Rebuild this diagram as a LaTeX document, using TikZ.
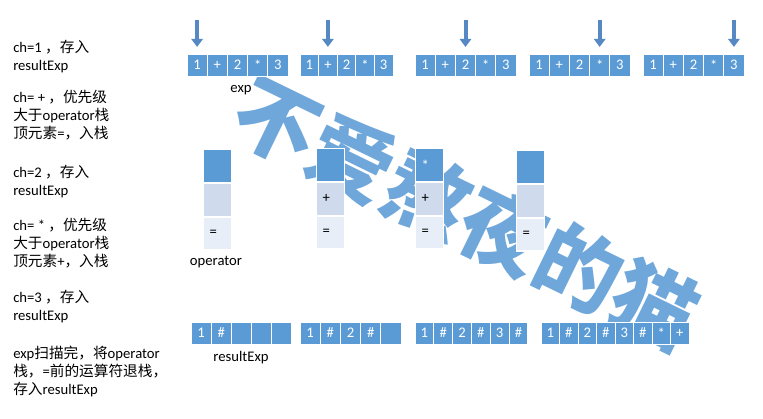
\documentclass[tikz,border=0pt]{standalone}
\usepackage{fontspec}
\setmainfont{Carlito}
\newfontfamily\cjk{Noto Sans CJK SC}
\usetikzlibrary{arrows.meta}
\definecolor{cellblue}{HTML}{5B9BD5}
\definecolor{stackmid}{HTML}{CFDBEC}
\definecolor{stacklow}{HTML}{E8EEF7}
\definecolor{ptrblue}{HTML}{5689C4}
\definecolor{wmblue}{HTML}{5B9BD5}

\begin{document}
\begin{tikzpicture}[x=0.75pt,y=-0.75pt,
    every node/.style={font=\fontsize{11pt}{13.4pt}\selectfont},
    cell/.style={rectangle,fill=cellblue,draw=white,line width=0.6pt,text=white,
        minimum height=16.5pt,minimum width=#1,inner sep=0pt},
    cell/.default=15pt,
    stackcell/.style={rectangle,draw=white,line width=0.9pt,minimum height=24.5pt,
        text width=12pt,align=left,inner xsep=4.5pt,inner ysep=0pt},
    stacktop/.style={stackcell,fill=cellblue,text=white},
    stackmid/.style={stackcell,fill=stackmid},
    stacklow/.style={stackcell,fill=stacklow},
    ptr/.style={draw=ptrblue,line width=3pt,-{Triangle[width=8.5pt,length=6pt]}},
    note/.style={anchor=north west,align=left,inner sep=0pt},
    wmtext/.style={font=\cjk\bfseries\fontsize{63pt}{63pt}\selectfont,text=wmblue,
        rotate=-26,opacity=0.88}
]
\useasboundingbox (0,0) rectangle (763,418);

% watermark
\node[wmtext] (wm) at (466,213) {不爱熬夜的猫};

% left notes
\node[note] (t1) at (13,40) {ch=1 {\cjk ，存入}\\resultExp};
\node[note] (t2) at (13,90) {ch= + {\cjk ，优先级}\\{\cjk 大于}operator{\cjk 栈}\\{\cjk 顶元素}={\cjk ，入栈}};
\node[note] (t3) at (13,165) {ch=2 {\cjk ，存入}\\resultExp};
\node[note] (t4) at (13,218) {ch= * {\cjk ，优先级}\\{\cjk 大于}operator{\cjk 栈}\\{\cjk 顶元素}+{\cjk ，入栈}};
\node[note] (t5) at (13,290) {ch=3 {\cjk ，存入}\\resultExp};
\node[note] (t6) at (13,346) {exp{\cjk 扫描完，将}operator\\{\cjk 栈，}={\cjk 前的运算符退栈，}\\{\cjk 存入}resultExp};

% exp arrays
\foreach \s/\w [count=\k] in {187/20.2,300/18.6,415/20.2,529/20.2,643/20.2}
{
    \foreach \t [count=\i] in {1,+,2,*,3}
        \node[cell=\w*0.75pt] (e\k-\i) at ({\s+\w*(\i-0.5)},65) {\t};
}

% scan pointers
\foreach \k in {1,...,5}
{
    \coordinate (p\k) at ([yshift=25.5pt]e\k-\k.north);
    \draw[ptr,shorten >=5pt] (p\k) -- (e\k-\k);
}

\node (explbl) at (241,90) {exp};

% operator stacks
\foreach \x/\y/\a/\b/\c [count=\k] in {203/149/{}/{}/=,316/148/{}/+/=,415/148/*/+/=,516/150/{}/{}/=}
{
    \node[stacktop,anchor=north west] (o\k-1) at (\x,\y) {\a};
    \node[stackmid,anchor=north] (o\k-2) at (o\k-1.south) {\b};
    \node[stacklow,anchor=north] (o\k-3) at (o\k-2.south) {\c};
}

\node (oplbl) at (216,262) {operator};

% resultExp arrays
\foreach \s/\w/\vals [count=\k] in {191/20.1/{1,\#,{},{},{}},300/20.2/{1,\#,2,\#,{}},415/18.8/{1,\#,2,\#,3,\#},541/18.5/{1,\#,2,\#,3,\#,*,+}}
{
    \foreach \t [count=\i] in \vals
        \node[cell=\w*0.75pt] (r\k-\i) at ({\s+\w*(\i-0.5)},333) {\t};
}

\node (reslbl) at (241,358) {resultExp};
\end{tikzpicture}
\end{document}
